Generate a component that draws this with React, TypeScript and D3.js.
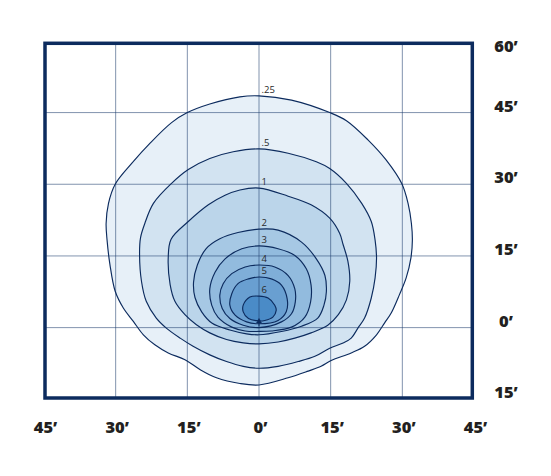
import React from 'react';
import * as d3 from 'd3';

// axis ticks (feet)
const X_TICKS = [-45, -30, -15, 0, 15, 30, 45];
const X_LABELS = ['45’', '30’', '15’', '0’', '15’', '30’', '45’'];
const Y_TICKS = [60, 45, 30, 15, 0, -15];
const Y_LABELS = ['60’', '45’', '30’', '15’', '0’', '15’'];
const GRID_X = [-30, -15, 0, 15, 30];
const GRID_Y = [45, 30, 15, 0];

// isofootcandle levels, outermost first
const LEVELS = ['.25', '.5', '1', '2', '3', '4', '5', '6'];
const FILLS = ['#e7f0f8', '#d2e3f1', '#bbd5ea', '#a6c8e4', '#92bbde', '#7faed8', '#699fd1', '#4a8bc7'];

// contour outlines in feet [x, y]
const ISO_025 = [
  [0, 48.5], [6.8, 47.6], [14.8, 45.0], [18.3, 43.3], [22.8, 39.3], [26.6, 35.1], [29.9, 30.1],
  [31.2, 26.0], [31.9, 21.8], [32.1, 18.3], [31.8, 14.6], [30.8, 10.4], [29.4, 6.9], [27.7, 3.1],
  [26.3, 1.0], [24.6, -1.5], [22.1, -3.9], [19.3, -5.3], [15.1, -6.9], [13.0, -8.1], [10.3, -9.1],
  [6.1, -10.5], [0, -12.0], [-4.0, -11.7], [-8.9, -10.5], [-12.3, -8.8], [-15.5, -6.7], [-19.0, -5.3],
  [-21.8, -3.6], [-24.2, -1.5], [-26.3, 1.3], [-28.4, 4.1], [-30.1, 7.6], [-31.2, 13.2], [-31.8, 18.3],
  [-32.0, 21.8], [-31.5, 26.0], [-30.1, 30.0], [-26.6, 34.4], [-22.8, 38.6], [-18.3, 42.9], [-15.0, 45.0],
  [-10.3, 46.8], [-4.0, 48.3],
];
const ISO_05 = [
  [0, 37.4], [6.1, 36.5], [12.0, 34.7], [14.8, 33.3], [18.3, 30.2], [21.5, 26.0], [23.5, 22.2],
  [24.3, 18.3], [24.6, 14.6], [24.3, 10.4], [23.5, 6.2], [22.1, 2.0], [20.7, -0.1], [19.3, -2.2],
  [17.6, -3.2], [14.8, -4.3], [11.7, -6.0], [8.2, -7.1], [4.0, -8.1], [0, -8.5], [-3.3, -8.1],
  [-6.8, -7.1], [-10.3, -5.7], [-13.8, -3.9], [-16.5, -2.2], [-19.4, -0.1], [-21.5, 2.0], [-23.6, 5.5],
  [-24.6, 9.7], [-25.0, 15.3], [-24.8, 18.8], [-23.9, 21.8], [-22.1, 26.0], [-18.3, 30.2], [-14.8, 33.1],
  [-10.3, 35.4], [-5.4, 36.8],
];
const ISO_1 = [
  [0, 29.2], [6.1, 27.5], [10.9, 25.7], [14.8, 22.9], [16.9, 19.7], [17.6, 17.4], [18.6, 13.9],
  [19.0, 9.7], [18.3, 5.8], [16.6, 2.7], [14.4, 0.5], [10.9, -1.1], [7.5, -2.2], [4.0, -3.0], [0, -3.4],
  [-3.3, -3.2], [-6.8, -2.5], [-10.3, -1.1], [-13.1, 0.6], [-15.5, 2.7], [-17.6, 5.5], [-18.6, 9.0],
  [-19.0, 14.6], [-18.4, 18.5], [-14.8, 22.2], [-10.6, 25.7], [-7.1, 27.7], [-4.0, 28.8],
];
const ISO_2 = [
  [0, 20.6], [4.0, 20.4], [8.9, 17.9], [12.0, 14.4], [13.8, 10.9], [14.1, 7.5], [13.6, 4.7],
  [12.3, 2.0], [8.9, 0.3], [4.7, -0.8], [0, -1.5], [-2.6, -1.3], [-6.1, -0.5], [-9.8, 0.9],
  [-12.0, 3.3], [-13.4, 6.3], [-13.7, 9.5], [-12.9, 13.1], [-11.1, 16.5], [-8.2, 18.6], [-4.4, 19.9],
];
const ISO_3 = [
  [0, 17.1], [4.0, 16.5], [7.5, 15.1], [9.9, 12.3], [10.9, 8.9], [10.8, 5.4], [9.6, 2.2], [6.8, 0.1],
  [2.6, -0.7], [0, -0.8], [-2.9, -0.7], [-5.7, 0.1], [-8.6, 2.2], [-9.9, 4.7], [-10.3, 8.1],
  [-9.2, 11.6], [-7.1, 14.4], [-3.6, 16.5],
];
const ISO_4 = [
  [0, 13.1], [3.3, 12.7], [6.1, 10.9], [7.5, 8.1], [7.6, 5.4], [6.8, 2.9], [4.7, 1.2], [0, 0.0],
  [-3.3, 0.5], [-6.1, 1.9], [-7.7, 4.0], [-8.2, 6.8], [-7.5, 9.2], [-5.7, 11.3], [-2.9, 12.7],
];
const ISO_5 = [
  [0, 10.6], [2.6, 10.2], [4.7, 8.9], [5.9, 6.0], [5.7, 3.3], [4.0, 1.5], [0, 0.8], [-2.6, 1.2],
  [-5.0, 2.6], [-6.1, 4.7], [-5.7, 7.1], [-4.4, 9.2], [-2.2, 10.2],
];
const ISO_6 = [
  [0, 6.6], [1.9, 6.2], [3.3, 4.7], [3.6, 3.6], [2.9, 2.2], [1.2, 1.5], [0, 1.4], [-2.2, 1.9],
  [-3.3, 3.3], [-3.3, 4.7], [-1.9, 6.4],
];
const CONTOURS = [ISO_025, ISO_05, ISO_1, ISO_2, ISO_3, ISO_4, ISO_5, ISO_6];

// luminaire position
const FIXTURE = [0, 1.3];

const W = 551;
const H = 476;

const App = () => {
  const x = d3.scaleLinear().domain([-45, 45]).range([44, 474]);
  const y = d3.scaleLinear().domain([-15, 60]).range([399.3, 40.9]);

  const line = d3
    .line<number[]>()
    .x(d => x(d[0]))
    .y(d => y(d[1]))
    .curve(d3.curveCatmullRomClosed.alpha(0.5));

  const navy = '#0c2b5e';
  const left = x(-45) + 1;
  const right = x(45) - 1.7;
  const top = y(60) + 2.4;
  const bottom = y(-15) - 1.3;

  return (
    <svg
      width={W}
      height={H}
      style={{ position: 'absolute', left: 0, top: 0, background: '#fff' }}
    >
      {/* filled isolux areas */}
      {CONTOURS.map((c, i) => (
        <path key={'f' + i} d={line(c) || ''} fill={FILLS[i]} stroke="none" />
      ))}

      {/* grid */}
      <g stroke="#1b3a6b" strokeOpacity={0.55} strokeWidth={1}>
        {GRID_X.map(v => (
          <line key={'gx' + v} x1={x(v)} x2={x(v)} y1={top} y2={bottom} />
        ))}
        {GRID_Y.map(v => (
          <line key={'gy' + v} x1={left} x2={right} y1={y(v)} y2={y(v)} />
        ))}
      </g>

      {/* contour lines */}
      {CONTOURS.map((c, i) => (
        <path key={'s' + i} d={line(c) || ''} fill="none" stroke={navy} strokeWidth={1.15} />
      ))}

      {/* level labels, sat just above the top of each contour */}
      {CONTOURS.map((c, i) => {
        const topPt = c.reduce((a, b) => (b[1] > a[1] ? b : a));
        return (
          <text
            key={'l' + i}
            x={x(0) + 2.5}
            y={y(topPt[1]) - 3}
            fontFamily="'Open Sans', sans-serif"
            fontSize={9.5}
            fill="#2a2a2a"
          >
            {LEVELS[i]}
          </text>
        );
      })}

      {/* fixture marker */}
      <g fill={navy} stroke={navy}>
        <line x1={x(FIXTURE[0])} x2={x(FIXTURE[0])} y1={y(FIXTURE[1]) - 2} y2={y(FIXTURE[1]) + 5} strokeWidth={1} />
        <path
          d={`M${x(FIXTURE[0])},${y(FIXTURE[1]) - 3} l-2.5,4.5 h5 z`}
          strokeWidth={0.5}
        />
      </g>

      {/* frame */}
      <rect
        x={left}
        y={top}
        width={right - left}
        height={bottom - top}
        fill="none"
        stroke={navy}
        strokeWidth={3.5}
      />

      {/* axis labels */}
      <g fontFamily="'Open Sans', sans-serif" fontWeight={800} fontSize={16.5} fill="#231f20">
        {X_TICKS.map((v, i) => (
          <text key={'xl' + i} x={x(v) + 1.5} y={y(-15) + 34} textAnchor="middle">
            {X_LABELS[i]}
          </text>
        ))}
        {Y_TICKS.map((v, i) => (
          <text
            key={'yl' + i}
            x={x(45) + 32}
            y={Math.max(y(v) - 1, top + 8.5)}
            textAnchor="middle"
          >
            {Y_LABELS[i]}
          </text>
        ))}
      </g>
    </svg>
  );
};

export default App;
